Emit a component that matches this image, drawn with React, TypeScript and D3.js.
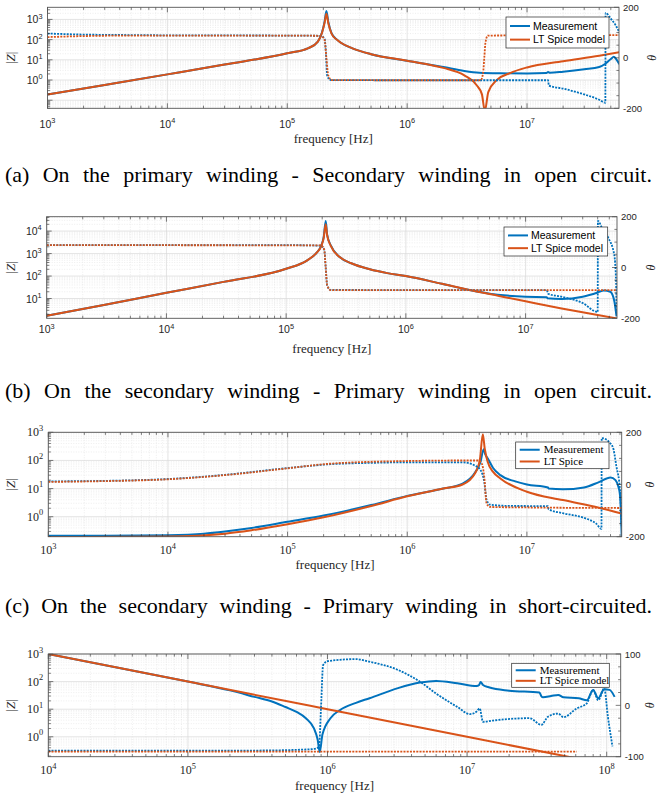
import React, { useEffect, useRef } from 'react';
import * as d3 from 'd3';

type Pt = [number, number];

const BLUE = '#0072BD';
const ORANGE = '#D95319';
const SANS = '"Liberation Sans", Arial, sans-serif';
const SERIF = '"Liberation Serif", "Times New Roman", serif';
const INK = '#262626';

// (a) primary winding, secondary open  — [frequency Hz, |Z| ohm] / [frequency Hz, phase deg]
const aZMeas: Pt[] = [[1e3, 0.19], [3e3, 0.57], [1e4, 1.9], [3e4, 5.8], [1e5, 21], [1.5e5, 38], [1.8e5, 80], [1.95e5, 230], [2.05e5, 800], [2.12e5, 2600], [2.2e5, 750], [2.34e5, 210], [2.6e5, 100], [2.8e5, 70], [3.5e5, 37], [5e5, 19], [1e6, 9], [2e6, 4.4], [3e6, 2.8], [4e6, 2.3], [6e6, 2.15], [1e7, 2.1], [1.45e7, 2.2], [1.5e7, 2.5], [1.55e7, 2.3], [2e7, 2.6], [3e7, 3.4], [4e7, 4.4], [4.5e7, 6.4], [5e7, 11], [5.3e7, 14], [5.6e7, 10], [5.9e7, 6]];
const aZModel: Pt[] = [[1e3, 0.19], [3e3, 0.57], [1e4, 1.9], [3e4, 5.8], [1e5, 21], [1.5e5, 38], [1.8e5, 80], [1.95e5, 220], [2.05e5, 700], [2.12e5, 1900], [2.2e5, 650], [2.34e5, 200], [2.6e5, 98], [2.8e5, 70], [3.5e5, 37], [5e5, 19], [1e6, 9], [2e6, 4], [3e6, 1.7], [3.8e6, 0.55], [4.2e6, 0.2], [4.45e6, 0.03], [4.75e6, 0.25], [5.6e6, 1.0], [7.2e6, 2.2], [1e7, 4.2], [2e7, 8.5], [4e7, 16], [5.9e7, 24]];
const aPhMeas: Pt[] = [[1e3, 96], [2e3, 92], [5e3, 90], [1e4, 89], [1e5, 88], [1.9e5, 87], [2.05e5, 75], [2.1e5, 20], [2.15e5, -70], [2.3e5, -88], [1e6, -89], [1.5e7, -89], [1.52e7, -110], [2e7, -122], [3e7, -145], [4e7, -166], [4.5e7, -178], [4.52e7, 178], [5e7, 155], [5.5e7, 128], [5.9e7, 100]];
const aPhModel: Pt[] = [[1e3, 82], [2e3, 86], [5e3, 88], [1e5, 88], [1.9e5, 87], [2.05e5, 70], [2.12e5, 0], [2.2e5, -70], [2.35e5, -88], [1e6, -89], [4.1e6, -89], [4.3e6, -60], [4.4e6, 0], [4.5e6, 60], [4.7e6, 88], [5.9e7, 90]];

// (b) secondary winding, primary open
const bZMeas: Pt[] = [[1e3, 1.7], [3e3, 5.2], [1e4, 18], [3e4, 55], [1e5, 210], [1.5e5, 500], [1.8e5, 1100], [1.96e5, 2200], [2.06e5, 5500], [2.14e5, 28000], [2.2e5, 7000], [2.36e5, 2300], [2.8e5, 700], [3.5e5, 370], [5e5, 200], [7e5, 135], [1e6, 100], [2e6, 45], [3.4e6, 24], [5e6, 16.5], [7e6, 13.5], [1e7, 12], [1.5e7, 11.5], [1.52e7, 10.3], [2e7, 9.5], [3e7, 12], [4e7, 18.5], [4.5e7, 23], [5.1e7, 20], [5.5e7, 8], [5.75e7, 1.6]];
const bZModel: Pt[] = [[1e3, 1.7], [3e3, 5.2], [1e4, 18], [3e4, 55], [1e5, 210], [1.5e5, 500], [1.8e5, 1100], [1.96e5, 2100], [2.06e5, 5000], [2.14e5, 20000], [2.2e5, 6500], [2.36e5, 2200], [2.8e5, 700], [3.5e5, 370], [5e5, 200], [7e5, 135], [1e6, 100], [2e6, 45], [3.4e6, 24], [6e6, 13], [1e7, 7.5], [2e7, 3.6], [4e7, 1.85], [5.8e7, 1.3]];
const bPhMeas: Pt[] = [[1e3, 88], [1e5, 88], [1.95e5, 86], [2.08e5, 70], [2.14e5, 0], [2.2e5, -70], [2.35e5, -88], [1e6, -89], [1.5e7, -89], [1.55e7, -104], [2e7, -115], [3e7, -140], [4e7, -175], [4.02e7, 183], [4.4e7, 150], [4.9e7, 117], [5.5e7, 50], [5.7e7, -60], [5.75e7, -180]];
const bPhModel: Pt[] = [[1e3, 88], [1.95e5, 87], [2.08e5, 70], [2.14e5, 0], [2.2e5, -70], [2.35e5, -89], [5.8e7, -89]];

// (c) secondary winding, primary short-circuited
const cZMeas: Pt[] = [[1e3, 0.21], [3e3, 0.21], [1e4, 0.22], [2e4, 0.25], [3e4, 0.3], [5e4, 0.4], [1e5, 0.66], [2e5, 1.1], [5e5, 2.6], [1e6, 5.5], [2e6, 10], [2.9e6, 15], [3.7e6, 38], [4.1e6, 90], [4.35e6, 250], [4.5e6, 160], [4.7e6, 120], [5.2e6, 55], [6e6, 30], [8e6, 18], [1e7, 14], [1.5e7, 11], [1.52e7, 10], [2e7, 9.4], [3e7, 11], [4e7, 17], [5e7, 25], [5.5e7, 20], [5.8e7, 12], [6e7, 6], [6.2e7, 0.2]];
const cZModel: Pt[] = [[1e3, 0.19], [1e4, 0.2], [3e4, 0.25], [5e4, 0.33], [1e5, 0.54], [2e5, 0.95], [5e5, 2.4], [1e6, 5.3], [2e6, 10], [2.9e6, 14], [3.7e6, 36], [4.05e6, 110], [4.28e6, 850], [4.45e6, 250], [4.7e6, 90], [5.2e6, 40], [6e6, 23], [1e7, 7.7], [2e7, 3.9], [4e7, 2.1], [6.2e7, 1.3]];
const cPhMeas: Pt[] = [[1e3, 12], [3e3, 14], [1e4, 21], [3e4, 37], [1e5, 63], [2.3e5, 78], [5e5, 83], [1e6, 85], [2.9e6, 85], [3.7e6, 72], [4.1e6, 55], [4.4e6, 10], [4.6e6, -58], [4.9e6, -77], [7e6, -82], [1.5e7, -83], [1.52e7, -95], [2e7, -110], [3e7, -128], [3.8e7, -150], [4.2e7, -170], [4.22e7, 178], [5.2e7, 146], [5.6e7, 69], [6e7, -20], [6.2e7, -160]];
const cPhModel: Pt[] = [[1e3, 10], [3e3, 13], [1e4, 20], [3e4, 36], [1e5, 62], [2.3e5, 80], [1e6, 90], [2.9e6, 92], [3.9e6, 92], [4.2e6, 80], [4.4e6, 30], [4.6e6, -71], [4.9e6, -86], [1e7, -88], [6.2e7, -90]];

// (d) primary winding short-circuited
const dZMeas: Pt[] = [[1e4, 1000], [1e5, 100], [2e5, 48], [3e5, 28], [4e5, 19], [5e5, 12], [6e5, 8], [7e5, 4.7], [8e5, 2], [8.5e5, 0.8], [8.8e5, 0.28], [9.2e5, 1.2], [1.05e6, 4.7], [1.23e6, 9.3], [1.6e6, 17], [2e6, 25], [3.2e6, 58], [4.6e6, 92], [6e6, 105], [8.5e6, 87], [1.17e7, 69], [1.22e7, 75], [1.25e7, 97], [1.3e7, 75], [1.45e7, 61], [2e7, 47], [3.3e7, 40], [3.4e7, 30], [3.5e7, 27], [4e7, 30], [4.5e7, 33], [4.9e7, 27], [6.3e7, 25], [7.2e7, 21], [8e7, 50], [8.7e7, 25], [9.6e7, 53], [1.05e8, 50], [1.14e8, 28]];
const dZModel: Pt[] = [[1e4, 1000], [1e5, 100], [1e6, 10], [1e7, 1], [6.1e7, 0.164]];
const dPhMeas: Pt[] = [[1e4, -88], [3e5, -88], [7e5, -86], [8.3e5, -84], [8.7e5, -80], [9e5, 0], [9.3e5, 78], [1e6, 86], [1.6e6, 90], [2e6, 85], [3.2e6, 69], [4.6e6, 46], [6e6, 23], [8.5e6, -3], [1.05e7, -17], [1.17e7, -12], [1.23e7, -6], [1.3e7, -32], [1.6e7, -29], [2.8e7, -25], [3.4e7, -38], [3.8e7, -22], [4.5e7, -16], [4.9e7, -23], [6.1e7, -6], [7.2e7, 4], [8e7, 30], [8.7e7, 10], [9.6e7, 33], [1.02e8, -22], [1.1e8, -80]];
const dPhModel: Pt[] = [[1e4, -90], [6.1e7, -90]];

const captions = [
  '(a) On the primary winding - Secondary winding in open circuit.',
  '(b) On the secondary winding - Primary winding in open circuit.',
  '(c) On the secondary winding - Primary winding in short-circuited.',
];

interface Cfg {
  id: string;
  box: { l: number; r: number; t: number; b: number };
  fDom: [number, number];
  zDom: [number, number];
  pDom: [number, number];
  pStep: number;
  xExp: number[];
  zExp: number[];
  pTicks: number[];
  serif: boolean;
  xLabDy: number;
  fLabDy: number;
  thetaX: number;
  legend: { x: number; y: number; w: number; h: number; names: [string, string] };
  zMeas: Pt[]; zModel: Pt[]; pMeas: Pt[]; pModel: Pt[];
}

const panels: Cfg[] = [
  {
    id: 'a', box: { l: 47.5, r: 619, t: 7.3, b: 108.3 }, fDom: [1e3, 5.85e7], zDom: [0.0398, 3981], pDom: [-200, 200], pStep: 50,
    xExp: [3, 4, 5, 6, 7], zExp: [0, 1, 2, 3], pTicks: [-200, 0, 200], serif: false, xLabDy: 19.5, fLabDy: 35, thetaX: 652,
    legend: { x: 506, y: 17, w: 103, h: 31, names: ['Measurement', 'LT Spice model'] },
    zMeas: aZMeas, zModel: aZModel, pMeas: aPhMeas, pModel: aPhModel,
  },
  {
    id: 'b', box: { l: 46.7, r: 617, t: 216.7, b: 318.3 }, fDom: [1e3, 5.8e7], zDom: [1.32, 43650], pDom: [-200, 200], pStep: 50,
    xExp: [3, 4, 5, 6, 7], zExp: [1, 2, 3, 4], pTicks: [-200, 0, 200], serif: false, xLabDy: 15, fLabDy: 35, thetaX: 651,
    legend: { x: 504, y: 227, w: 103.7, h: 29, names: ['Measurement', 'LT Spice model'] },
    zMeas: bZMeas, zModel: bZModel, pMeas: bPhMeas, pModel: bPhModel,
  },
  {
    id: 'c', box: { l: 48.3, r: 621.7, t: 432.3, b: 536.7 }, fDom: [1e3, 6.2e7], zDom: [0.195, 1000], pDom: [-200, 200], pStep: 50,
    xExp: [3, 4, 5, 6, 7], zExp: [0, 1, 2, 3], pTicks: [-200, 0, 200], serif: true, xLabDy: 17.5, fLabDy: 32, thetaX: 650,
    legend: { x: 515.7, y: 442, w: 93.3, h: 26.7, names: ['Measurement', 'LT Spice'] },
    zMeas: cZMeas, zModel: cZModel, pMeas: cPhMeas, pModel: cPhModel,
  },
  {
    id: 'd', box: { l: 48.3, r: 620.7, t: 654, b: 756.7 }, fDom: [1e4, 1.26e8], zDom: [0.19, 1000], pDom: [-100, 100], pStep: 25,
    xExp: [4, 5, 6, 7, 8], zExp: [0, 1, 2, 3], pTicks: [-100, 0, 100], serif: true, xLabDy: 17.5, fLabDy: 33.5, thetaX: 650,
    legend: { x: 511.7, y: 663.3, w: 97.6, h: 24, names: ['Measurement', 'LT Spice model'] },
    zMeas: dZMeas, zModel: dZModel, pMeas: dPhMeas, pModel: dPhModel,
  },
];

function logTicks(dom: [number, number]) {
  const out: { v: number; major: boolean }[] = [];
  const k0 = Math.floor(Math.log10(dom[0]));
  const k1 = Math.ceil(Math.log10(dom[1]));
  for (let k = k0; k <= k1; k++) {
    for (let m = 1; m <= 9; m++) {
      const v = m * Math.pow(10, k);
      if (v >= dom[0] * 0.9999 && v <= dom[1] * 1.0001) out.push({ v, major: m === 1 });
    }
  }
  return out;
}

function Pow10({ x, y, e, anchor, serif }: { x: number; y: number; e: number; anchor: string; serif: boolean }) {
  const fs = serif ? 12 : 10.5;
  return (
    <text x={x} y={y} textAnchor={anchor} fontFamily={serif ? SERIF : SANS} fontSize={fs} fill={INK}>
      10<tspan dy={-fs * 0.45} fontSize={fs * 0.7}>{e}</tspan>
    </text>
  );
}

function Panel({ c }: { c: Cfg }) {
  const { box } = c;
  const x = d3.scaleLog().domain(c.fDom).range([box.l, box.r]);
  const y = d3.scaleLog().domain(c.zDom).range([box.b, box.t]);
  const p = d3.scaleLinear().domain(c.pDom).range([box.b, box.t]);
  const zl = d3.line<Pt>().x(d => x(d[0])).y(d => y(d[1])).curve(d3.curveMonotoneX);
  const pl = d3.line<Pt>().x(d => x(d[0])).y(d => p(d[1])).curve(d3.curveMonotoneX);
  const xt = logTicks(c.fDom);
  const zt = logTicks(c.zDom);
  const pt = d3.range(c.pDom[0], c.pDom[1] + 0.01, c.pStep);
  const cx = (box.l + box.r) / 2;
  const cy = (box.t + box.b) / 2;
  const lg = c.legend;
  const lgFont = c.serif ? SERIF : SANS;
  const lgSize = c.serif ? 11 : 10.5;
  const rows = [lg.y + lg.h * 0.29, lg.y + lg.h * 0.73];

  return (
    <g>
      <defs>
        <clipPath id={'clip-' + c.id}>
          <rect x={box.l} y={box.t} width={box.r - box.l} height={box.b - box.t} />
        </clipPath>
      </defs>
      <rect x={box.l} y={box.t} width={box.r - box.l} height={box.b - box.t} fill="#fff" />
      {/* grid */}
      {xt.map((t, i) => (
        <line key={'gx' + i} x1={x(t.v)} x2={x(t.v)} y1={box.t} y2={box.b}
          stroke={t.major ? '#d9d9d9' : '#e3e3e3'} strokeWidth={t.major ? 0.7 : 0.6}
          strokeDasharray={t.major ? undefined : '1,1.5'} />
      ))}
      {zt.map((t, i) => (
        <line key={'gy' + i} x1={box.l} x2={box.r} y1={y(t.v)} y2={y(t.v)}
          stroke={t.major ? '#d9d9d9' : '#e3e3e3'} strokeWidth={t.major ? 0.7 : 0.6}
          strokeDasharray={t.major ? undefined : '1,1.5'} />
      ))}
      {/* curves */}
      <g clipPath={`url(#clip-${c.id})`} fill="none">
        <path d={zl(c.zMeas) || ''} stroke={BLUE} strokeWidth={2} />
        <path d={zl(c.zModel) || ''} stroke={ORANGE} strokeWidth={2} />
        <path d={pl(c.pMeas) || ''} stroke={BLUE} strokeWidth={1.8} strokeDasharray="2,1.2" />
        <path d={pl(c.pModel) || ''} stroke={ORANGE} strokeWidth={1.8} strokeDasharray="2,1.2" />
      </g>
      {/* ticks */}
      {xt.map((t, i) => {
        const len = t.major ? 5 : 2.6;
        const xv = x(t.v);
        return (
          <g key={'tx' + i} stroke={INK} strokeWidth={0.6}>
            <line x1={xv} x2={xv} y1={box.b} y2={box.b - len} />
            <line x1={xv} x2={xv} y1={box.t} y2={box.t + len} />
          </g>
        );
      })}
      {zt.map((t, i) => (
        <line key={'tz' + i} x1={box.l} x2={box.l + (t.major ? 5 : 2.6)} y1={y(t.v)} y2={y(t.v)} stroke={INK} strokeWidth={0.6} />
      ))}
      {pt.map((v, i) => (
        <line key={'tp' + i} x1={box.r} x2={box.r - (c.pTicks.includes(v) ? 5 : 2.6)} y1={p(v)} y2={p(v)} stroke={INK} strokeWidth={0.6} />
      ))}
      <rect x={box.l} y={box.t} width={box.r - box.l} height={box.b - box.t} fill="none" stroke="#555" strokeWidth={0.9} />
      {/* tick labels */}
      {c.xExp.map(e => (
        <Pow10 key={'lx' + e} x={x(Math.pow(10, e))} y={box.b + c.xLabDy} e={e} anchor="middle" serif={c.serif} />
      ))}
      {c.zExp.map(e => (
        <Pow10 key={'lz' + e} x={box.l - 5} y={y(Math.pow(10, e)) + 4} e={e} anchor="end" serif={c.serif} />
      ))}
      {c.pTicks.map(v => (
        <text key={'lp' + v} x={box.r + 4} y={p(v) + 3.5} fontFamily={SANS} fontSize={9.5} fill={INK}>{v}</text>
      ))}
      {/* axis titles */}
      <text x={cx} y={box.b + c.fLabDy} textAnchor="middle" fontFamily={SERIF} fontSize={13} fill={INK}>frequency [Hz]</text>
      <text transform={`translate(15,${cy}) rotate(-90)`} textAnchor="middle" fontFamily={SERIF} fontSize={13} fill={INK}>
        |<tspan fontStyle="italic">Z</tspan>|
      </text>
      <text transform={`translate(${c.thetaX + 4},${cy}) rotate(-90)`} textAnchor="middle" fontFamily={SERIF} fontStyle="italic" fontSize={12} fill={INK}>θ</text>
      {/* legend */}
      <rect x={lg.x} y={lg.y} width={lg.w} height={lg.h} fill="#fff" stroke={INK} strokeWidth={0.7} />
      {[BLUE, ORANGE].map((col, i) => (
        <g key={'lg' + i}>
          <line x1={lg.x + 4} x2={lg.x + 24} y1={rows[i]} y2={rows[i]} stroke={col} strokeWidth={2} />
          <text x={lg.x + (c.serif ? 28 : 27)} y={rows[i] + 3.6} fontFamily={lgFont} fontSize={lgSize} fill="#000">{lg.names[i]}</text>
        </g>
      ))}
    </g>
  );
}

// justified caption: extra width goes into the word gaps
function Caption({ text, y }: { text: string; y: number }) {
  const ref = useRef<SVGTextElement>(null);
  useEffect(() => {
    const el = ref.current;
    if (!el) return;
    el.style.wordSpacing = '0px';
    const w = el.getComputedTextLength();
    const n = text.split(' ').length - 1;
    el.style.wordSpacing = Math.max(0, (647 - w) / n) + 'px';
  }, [text]);
  return (
    <text ref={ref} x={5} y={y} fontFamily={SERIF} fontSize={22} fill="#000">{text}</text>
  );
}

export default function App() {
  return (
    <svg width={659} height={798} style={{ position: 'absolute', left: 0, top: 0, background: '#fff' }}>
      {panels.map(c => <Panel key={c.id} c={c} />)}
      <Caption text={captions[0]} y={182} />
      <Caption text={captions[1]} y={398} />
      <Caption text={captions[2]} y={613} />
    </svg>
  );
}
